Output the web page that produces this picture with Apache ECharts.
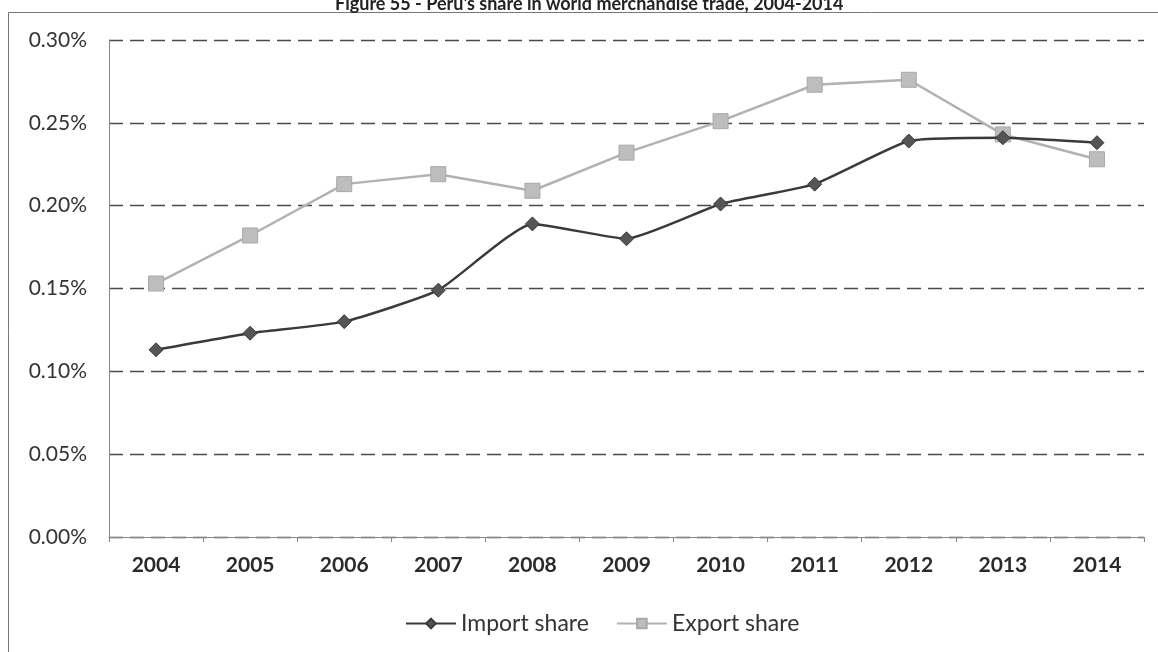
<!DOCTYPE html>
<html><head><meta charset="utf-8">
<script src="https://cdn.jsdelivr.net/npm/echarts@6/dist/echarts.min.js"></script>
<style>html,body{margin:0;padding:0;background:#fff}#c{width:1158px;height:652px}</style>
</head><body><div id="c"></div>
<script>
const titleText = "Figure 55 - Peru's share in world merchandise trade, 2004-2014";
const years = ['2004','2005','2006','2007','2008','2009','2010','2011','2012','2013','2014'];
const importShare = [0.113,0.123,0.130,0.149,0.189,0.180,0.201,0.213,0.239,0.241,0.238];
const exportShare = [0.153,0.182,0.213,0.219,0.209,0.232,0.251,0.273,0.276,0.243,0.228];
const font = 'Lato, "Open Sans", sans-serif';
const chart = echarts.init(document.getElementById('c'));
chart.setOption({
  animation:false,
  backgroundColor:'#fff',
  title:{text:titleText,left:330,top:-10,textStyle:{fontFamily:font,fontSize:18,fontWeight:'bold',color:'#222'}},
  graphic:[{type:'rect',shape:{x:8.5,y:12.5,width:1200,height:700},style:{fill:null,stroke:'#777',lineWidth:1},silent:true,z:-1}],
  grid:{left:109,right:14,top:40,bottom:115},
  legend:{top:607,left:400,itemWidth:50,itemHeight:12,itemGap:27,
    textStyle:{fontFamily:font,fontSize:23,color:'#333'},
    data:['Import share','Export share']},
  xAxis:{type:'category',data:years,boundaryGap:true,
    axisLine:{lineStyle:{color:'#888',width:1}},
    axisTick:{show:true,length:5,lineStyle:{color:'#888'}},
    axisLabel:{fontFamily:font,fontSize:21,fontWeight:'bold',color:'#2a2a2a',margin:18}},
  yAxis:{type:'value',min:0,max:0.3,interval:0.05,
    axisLine:{show:true,lineStyle:{color:'#888'}},
    axisTick:{show:false},
    axisLabel:{fontFamily:font,fontSize:21,color:'#333',margin:22,formatter:v=>v.toFixed(2)+'%'},
    splitLine:{lineStyle:{type:[14,7],color:'#4a4a4a',width:1.3}}},
  series:[
    {name:'Import share',type:'line',data:importShare,smooth:0.15,
     symbol:'diamond',symbolSize:14,
     lineStyle:{color:'#3a3a3a',width:2.5},
     itemStyle:{color:'#555555',borderColor:'#3a3a3a',borderWidth:1},z:3},
    {name:'Export share',type:'line',data:exportShare,
     symbol:'rect',symbolSize:15,
     lineStyle:{color:'#b2b2b2',width:2.5},
     itemStyle:{color:'#bdbdbd',borderColor:'#a8a8a8',borderWidth:1},z:2}
  ]
});
</script></body></html>
